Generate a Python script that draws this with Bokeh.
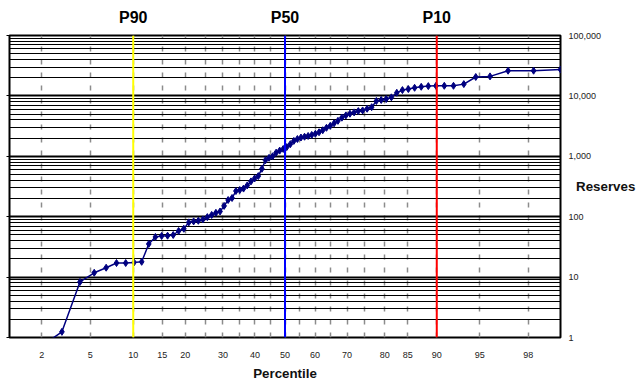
from statistics import NormalDist

from bokeh.plotting import figure
from bokeh.models import (Range1d, FixedTicker, LinearAxis, LogAxis, NumeralTickFormatter,
                          CustomJSTickFormatter, Span, ColumnDataSource)
from bokeh.embed import file_html
from bokeh.resources import INLINE

# ---------------- data ----------------
percentile = [0.60, 1.79, 2.98, 4.17, 5.36, 6.55, 7.74, 8.93, 10.12, 11.31,
              12.50, 13.69, 14.88, 16.07, 17.26, 18.45, 19.64, 20.83, 22.02, 23.21,
              24.40, 25.60, 26.79, 27.98, 29.17, 30.36, 31.55, 32.74, 33.93, 35.12,
              36.31, 37.50, 38.69, 39.88, 41.07, 42.26, 43.45, 44.64, 45.83, 47.02,
              48.21, 49.40, 50.60, 51.79, 52.98, 54.17, 55.36, 56.55, 57.74, 58.93,
              60.12, 61.31, 62.50, 63.69, 64.88, 66.07, 67.26, 68.45, 69.64, 70.83,
              72.02, 73.21, 74.40, 75.60, 76.79, 77.98, 79.17, 80.36, 81.55, 82.74,
              83.93, 85.12, 86.31, 87.50, 88.69, 89.88, 91.07, 92.26, 93.45, 94.64,
              95.83, 97.02, 98.21, 99.00]

reserves = [0.3, 0.63, 1.24, 8.3, 11.8, 14.3, 17.1, 17.1, 17.5, 17.9,
            35.4, 46.2, 48, 48.5, 49.8, 58, 63.2, 80.5, 83.6, 85.6,
            90.2, 98.4, 107, 116, 122, 151, 189, 204, 266, 277,
            292, 330, 384, 430, 470, 621, 860, 942, 1000, 1150,
            1242, 1324, 1419, 1588, 1799, 1933, 2046, 2109, 2174, 2259,
            2362, 2500, 2698, 2965, 3199, 3516, 3865, 4363, 4754, 5073,
            5330, 5600, 5745, 6125, 6513, 8240, 8550, 8880, 9460, 11270,
            12480, 12970, 13620, 14150, 14520, 14690, 14690, 14690, 15670, 20560,
            21040, 26120, 26120, 27300]

x_tick_values = [2, 5, 10, 15, 20, 30, 40, 50, 60, 70, 80, 85, 90, 95, 98]
x_grid_values = [2, 5, 10, 15, 20, 25, 30, 35, 40, 45, 50, 55, 60, 65, 70, 75, 80, 85, 90, 95, 98]
y_tick_values = [1, 10, 100, 1000, 10000, 100000]
y_minor_mult = [2, 3, 4, 5, 6, 7, 8, 9]

p_levels = [10, 50, 90]
p_names = ["P90", "P50", "P10"]
p_colors = ["#FFFF00", "#0000FF", "#FF0000"]

FONT = "Liberation Sans"

nd = NormalDist()


def probit(pct):
    return nd.inv_cdf(pct / 100.0)


fmt_code = """
let out = "";
for (let i = 0; i < zs.length; i++) {
    if (Math.abs(tick - zs[i]) < 1e-6) { out = labels[i]; }
}
return out;
"""

# ---------------- figure ----------------
p = figure(width=639, height=383, output_backend="svg", toolbar_location=None,
           x_range=Range1d(probit(1), probit(99)), y_range=Range1d(1, 100000),
           y_axis_type="log",
           min_border_left=9, min_border_right=79, min_border_top=35, min_border_bottom=0,
           background_fill_color="white", border_fill_color="white")
p.outline_line_color = "black"
p.outline_line_width = 2

# bottom axis (probability scale)
xz = [probit(v) for v in x_tick_values]
xa = p.xaxis[0]
xa.ticker = FixedTicker(ticks=xz)
xa.formatter = CustomJSTickFormatter(args=dict(zs=xz, labels=[str(v) for v in x_tick_values]),
                                     code=fmt_code)
xa.major_tick_line_color = None
xa.minor_tick_line_color = None
xa.axis_line_color = None
xa.major_label_text_font = FONT
xa.major_label_text_font_size = "9px"
xa.major_label_text_color = "#222222"
xa.major_label_standoff = 8
xa.axis_label = "Percentile"
xa.axis_label_text_font = FONT
xa.axis_label_text_font_style = "bold"
xa.axis_label_text_font_size = "13.33px"
xa.axis_label_text_color = "#111111"
xa.axis_label_standoff = 5

# left axis: decade ticks only, no labels
la = p.yaxis[0]
la.ticker = FixedTicker(ticks=y_tick_values, minor_ticks=[])
la.formatter = CustomJSTickFormatter(code='return "";')
la.major_label_standoff = 0
la.major_tick_out = 3
la.major_tick_in = 0
la.major_tick_line_color = "black"
la.minor_tick_line_color = None
la.axis_line_color = None

# right axis with values and the horizontal "Reserves" title
ra = LogAxis(ticker=FixedTicker(ticks=y_tick_values),
             formatter=NumeralTickFormatter(format="0,0"))
ra.major_tick_line_color = None
ra.minor_tick_line_color = None
ra.axis_line_color = None
ra.major_label_text_font = FONT
ra.major_label_text_font_size = "9px"
ra.major_label_text_color = "#222222"
ra.major_label_standoff = 2
ra.axis_label = "Reserves"
ra.axis_label_orientation = "horizontal"
ra.axis_label_standoff = -28
ra.axis_label_text_font = FONT
ra.axis_label_text_font_style = "bold"
ra.axis_label_text_font_size = "13.33px"
ra.axis_label_text_color = "#111111"
p.add_layout(ra, "right")

# top axis with P90 / P50 / P10 names
pz = [probit(v) for v in p_levels]
ta = LinearAxis(ticker=FixedTicker(ticks=pz),
                formatter=CustomJSTickFormatter(args=dict(zs=pz, labels=p_names), code=fmt_code))
ta.major_tick_line_color = None
ta.minor_tick_line_color = None
ta.axis_line_color = None
ta.major_label_text_font = FONT
ta.major_label_text_font_style = "bold"
ta.major_label_text_font_size = "16px"
ta.major_label_text_color = "black"
ta.major_label_standoff = 4
p.add_layout(ta, "above")

# grids
p.xgrid.ticker = FixedTicker(ticks=[probit(v) for v in x_grid_values])
p.xgrid.grid_line_color = "#8c8c8c"
p.xgrid.grid_line_width = 1.5
p.xgrid.grid_line_dash = "5 8"

p.ygrid.ticker = FixedTicker(ticks=y_tick_values,
                             minor_ticks=[m * d for d in y_tick_values[:-1] for m in y_minor_mult])
p.ygrid.grid_line_color = "black"
p.ygrid.grid_line_width = 2
p.ygrid.minor_grid_line_color = "black"
p.ygrid.minor_grid_line_width = 1

# percentile marker lines
for lvl, col in zip(p_levels, p_colors):
    p.add_layout(Span(location=probit(lvl), dimension="height", line_color=col, line_width=2))

# data
src = ColumnDataSource(data=dict(z=[probit(v) for v in percentile], reserves=reserves))
p.line("z", "reserves", source=src, line_color="#000080", line_width=1.5)
p.scatter("z", "reserves", source=src, marker="diamond", size=7,
          fill_color="#000080", line_color="#000080")

open("out.html", "w").write(file_html(p, INLINE))
